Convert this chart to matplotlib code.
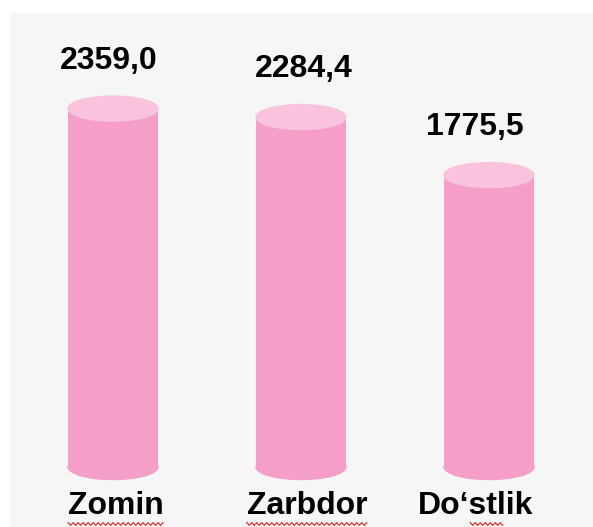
import matplotlib.pyplot as plt
import numpy as np
from matplotlib.lines import Line2D
from matplotlib.patches import Ellipse, Rectangle

districts = ['Zomin', 'Zarbdor', 'Do‘stlik']
values = [2359.0, 2284.4, 1775.5]
value_labels = ['2359,0', '2284,4', '1775,5']

BODY = '#f59ec8'
TOP = '#f9c3dd'
W, H = 593, 527

plt.rcParams['font.family'] = ['Liberation Sans', 'DejaVu Sans']

fig = plt.figure(figsize=(W / 100, H / 100), dpi=100)
fig.patch.set_facecolor('white')
# light grey slide panel behind the chart
fig.patches.append(Rectangle((10 / W, 0), 1 - 10 / W, 1 - 13 / H,
                             transform=fig.transFigure, facecolor='#f6f6f6',
                             edgecolor='none', zorder=-5))

ax = fig.add_axes([0, 0, 1, 1])
ax.axis('off')
ax.patch.set_alpha(0)

# value scale: cylinders stand on y=467px, 0.114 px per unit
px_per_unit = 0.114
base = -785
base_px = 467
ax.set_ylim(base - (H - base_px) / px_per_unit, base + base_px / px_per_unit)
step = 188
ax.set_xlim(-113 / step, (W - 113) / step)

bar_w = 90 / step
ell_h = 25 / px_per_unit

# the text boxes in the slide sit slightly off the cylinder axes
val_dx = [-4, 3, -14]
cat_dx = [3, 6, -13]

for i, v in enumerate(values):
    ax.bar(i, v - base, bottom=base, width=bar_w, color=BODY, zorder=2)
    ax.add_patch(Ellipse((i, base), bar_w, ell_h, color=BODY, zorder=2))
    ax.add_patch(Ellipse((i, v), bar_w, ell_h, color=TOP, zorder=3))
    ax.annotate(value_labels[i], (i, v), xytext=(val_dx[i], 48),
                textcoords='offset pixels', ha='center', va='center',
                fontsize=23, fontweight='bold', color='black')

labels = []
for i, name in enumerate(districts):
    t = ax.annotate(name, (i, 1 - 506 / H), xycoords=ax.get_xaxis_transform(),
                    xytext=(cat_dx[i], 0), textcoords='offset pixels',
                    ha='center', va='center', fontsize=23, fontweight='bold')
    labels.append(t)

# red spell-check squiggles under the category names
fig.canvas.draw()
renderer = fig.canvas.get_renderer()
for k, t in enumerate(labels):
    bb = t.get_window_extent(renderer)
    x0, x1 = bb.x0, bb.x1
    if k == 2:
        x0 = bb.x0 + 0.45 * bb.width
        x1 = bb.x0 + 0.75 * bb.width
    xs = np.arange(x0, x1, 2.5)
    ys = bb.y0 - 3 + np.where(np.arange(len(xs)) % 2 == 0, 1.4, -1.4)
    fig.add_artist(Line2D(xs / W, ys / H, transform=fig.transFigure,
                          color='#e02020', lw=0.8))

fig.savefig('out.png', dpi=100)
